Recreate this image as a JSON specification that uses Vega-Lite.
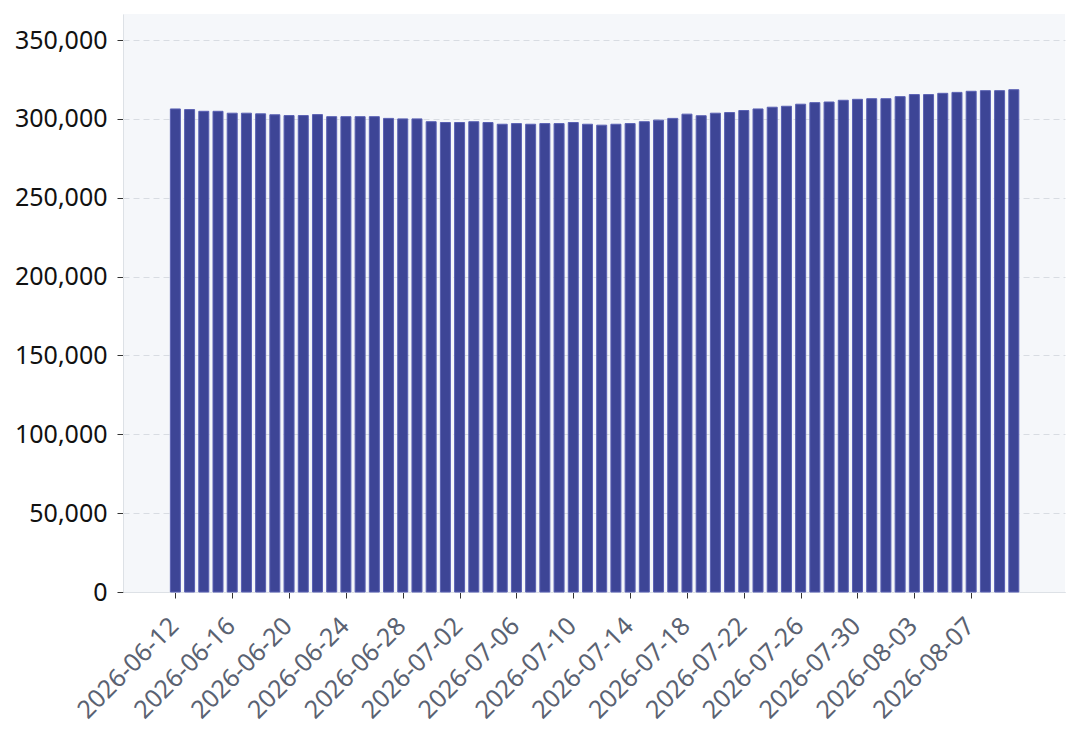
{
  "$schema": "https://vega.github.io/schema/vega-lite/v6.json",
  "width": 942,
  "height": 578,
  "autosize": "none",
  "padding": {"left": 123, "top": 14, "right": 15, "bottom": 143},
  "background": "white",
  "config": {
    "font": "Noto Sans",
    "view": {"fill": "#f5f7fa", "stroke": null}
  },
  "data": {
    "values": [
      {"date": "2026-06-12", "value": 306300},
      {"date": "2026-06-13", "value": 305900},
      {"date": "2026-06-14", "value": 304800},
      {"date": "2026-06-15", "value": 304800},
      {"date": "2026-06-16", "value": 303600},
      {"date": "2026-06-17", "value": 303600},
      {"date": "2026-06-18", "value": 303200},
      {"date": "2026-06-19", "value": 302600},
      {"date": "2026-06-20", "value": 302100},
      {"date": "2026-06-21", "value": 302100},
      {"date": "2026-06-22", "value": 302700},
      {"date": "2026-06-23", "value": 301400},
      {"date": "2026-06-24", "value": 301400},
      {"date": "2026-06-25", "value": 301400},
      {"date": "2026-06-26", "value": 301400},
      {"date": "2026-06-27", "value": 300300},
      {"date": "2026-06-28", "value": 300000},
      {"date": "2026-06-29", "value": 300000},
      {"date": "2026-06-30", "value": 298200},
      {"date": "2026-07-01", "value": 297700},
      {"date": "2026-07-02", "value": 297700},
      {"date": "2026-07-03", "value": 298200},
      {"date": "2026-07-04", "value": 297700},
      {"date": "2026-07-05", "value": 296600},
      {"date": "2026-07-06", "value": 297000},
      {"date": "2026-07-07", "value": 296600},
      {"date": "2026-07-08", "value": 297000},
      {"date": "2026-07-09", "value": 297000},
      {"date": "2026-07-10", "value": 297700},
      {"date": "2026-07-11", "value": 296600},
      {"date": "2026-07-12", "value": 296000},
      {"date": "2026-07-13", "value": 296600},
      {"date": "2026-07-14", "value": 297000},
      {"date": "2026-07-15", "value": 298200},
      {"date": "2026-07-16", "value": 299200},
      {"date": "2026-07-17", "value": 300300},
      {"date": "2026-07-18", "value": 303000},
      {"date": "2026-07-19", "value": 302000},
      {"date": "2026-07-20", "value": 303600},
      {"date": "2026-07-21", "value": 304000},
      {"date": "2026-07-22", "value": 305300},
      {"date": "2026-07-23", "value": 306300},
      {"date": "2026-07-24", "value": 307400},
      {"date": "2026-07-25", "value": 308000},
      {"date": "2026-07-26", "value": 309300},
      {"date": "2026-07-27", "value": 310300},
      {"date": "2026-07-28", "value": 310700},
      {"date": "2026-07-29", "value": 311800},
      {"date": "2026-07-30", "value": 312400},
      {"date": "2026-07-31", "value": 312800},
      {"date": "2026-08-01", "value": 312800},
      {"date": "2026-08-02", "value": 314100},
      {"date": "2026-08-03", "value": 315400},
      {"date": "2026-08-04", "value": 315400},
      {"date": "2026-08-05", "value": 316200},
      {"date": "2026-08-06", "value": 316800},
      {"date": "2026-08-07", "value": 317500},
      {"date": "2026-08-08", "value": 317900},
      {"date": "2026-08-09", "value": 317900},
      {"date": "2026-08-10", "value": 318500}
    ]
  },
  "mark": {
    "type": "bar",
    "width": 10,
    "fill": "#3d4596",
    "stroke": "#5a61b3",
    "strokeWidth": 1
  },
  "encoding": {
    "x": {
      "field": "date",
      "type": "temporal",
      "title": null,
      "scale": {
        "type": "utc",
        "domain": [
          {"year": 2026, "month": 6, "date": 8, "hours": 16, "utc": true},
          {"year": 2026, "month": 8, "date": 13, "hours": 6, "utc": true}
        ]
      },
      "axis": {
        "values": [
          {"year": 2026, "month": 6, "date": 12, "utc": true},
          {"year": 2026, "month": 6, "date": 16, "utc": true},
          {"year": 2026, "month": 6, "date": 20, "utc": true},
          {"year": 2026, "month": 6, "date": 24, "utc": true},
          {"year": 2026, "month": 6, "date": 28, "utc": true},
          {"year": 2026, "month": 7, "date": 2, "utc": true},
          {"year": 2026, "month": 7, "date": 6, "utc": true},
          {"year": 2026, "month": 7, "date": 10, "utc": true},
          {"year": 2026, "month": 7, "date": 14, "utc": true},
          {"year": 2026, "month": 7, "date": 18, "utc": true},
          {"year": 2026, "month": 7, "date": 22, "utc": true},
          {"year": 2026, "month": 7, "date": 26, "utc": true},
          {"year": 2026, "month": 7, "date": 30, "utc": true},
          {"year": 2026, "month": 8, "date": 3, "utc": true},
          {"year": 2026, "month": 8, "date": 7, "utc": true}
        ],
        "labelExpr": "utcFormat(datum.value, '%Y-%m-%d')",
        "labelAngle": -45,
        "labelAlign": "right",
        "labelBaseline": "top",
        "labelFontSize": 25,
        "labelColor": "#5a6272",
        "labelPadding": 15,
        "labelOffset": -10,
        "labelOverlap": false,
        "labelFlush": false,
        "grid": false,
        "tickColor": "#333333",
        "tickSize": 6,
        "domainColor": "#dde1e6"
      }
    },
    "y": {
      "field": "value",
      "type": "quantitative",
      "title": null,
      "scale": {"domain": [0, 366500], "nice": false},
      "axis": {
        "values": [0, 50000, 100000, 150000, 200000, 250000, 300000, 350000],
        "format": ",d",
        "labelFontSize": 25,
        "labelColor": "#111111",
        "labelPadding": 10,
        "tickColor": "#333333",
        "tickSize": 6,
        "domainColor": "#dde1e6",
        "gridColor": "#d8dce2",
        "gridDash": [6, 4],
        "gridWidth": 1
      }
    }
  }
}
